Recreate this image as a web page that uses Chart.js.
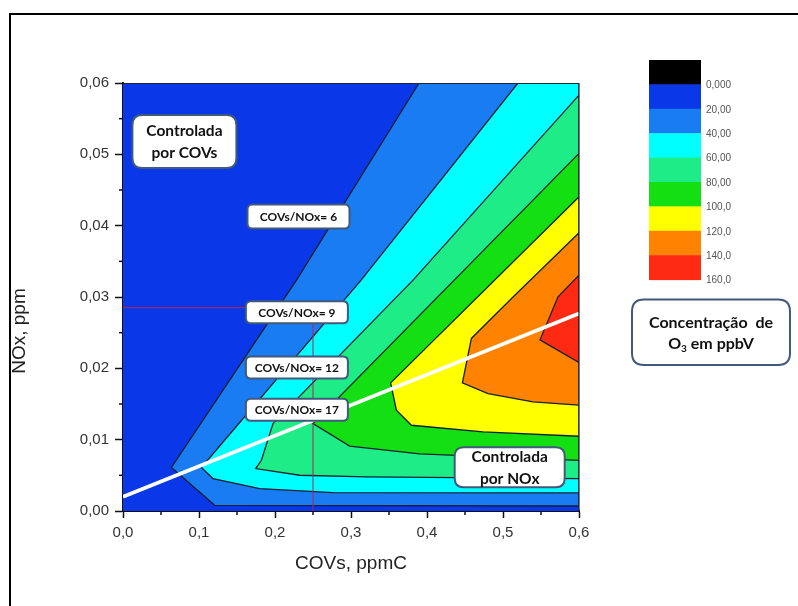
<!DOCTYPE html>
<html><head><meta charset="utf-8">
<script src="https://cdn.jsdelivr.net/npm/chart.js@4/dist/chart.umd.min.js"></script>
<style>html,body{margin:0;padding:0;background:#fff;}#wrap{position:relative;width:798px;height:606px;}canvas{display:block;}</style>
</head><body><div id="wrap"><canvas id="c" width="798" height="606"></canvas></div>
<script>
// ---- data (x = COVs ppmC, y = NOx ppm) ----
const levelLabels = ['0,000','20,00','40,00','60,00','80,00','100,0','120,0','140,0','160,0'];
const bandColors  = ['#000000','#0a37e8','#1a7cf2','#00ffff','#1eec86','#13df13','#ffff00','#ff8200','#ff2a12'];
const xTickValues = [0,0.1,0.2,0.3,0.4,0.5,0.6];
const xTickLabels = ['0,0','0,1','0,2','0,3','0,4','0,5','0,6'];
const yTickValues = [0,0.01,0.02,0.03,0.04,0.05,0.06];
const yTickLabels = ['0,00','0,01','0,02','0,03','0,04','0,05','0,06'];
const xRange = [0, 0.6];
const yRange = [0, 0.06];
// iso-lines of O3 (ppbV)
const iso20  = [[0.3896,0.0600],[0.2285,0.0324],[0.0637,0.0061],[0.1207,0.0008],[0.6,0.0007]];
const iso40  = [[0.5197,0.0600],[0.3136,0.0324],[0.1031,0.0061],[0.1184,0.00455],[0.1799,0.00314],[0.2763,0.00258],[0.6,0.00253]];
const iso60  = [[0.6,0.0583],[0.3816,0.03237],[0.1974,0.01226],[0.1821,0.00711],[0.1746,0.00595],[0.2325,0.00501],[0.3203,0.00477],[0.6,0.00455]];
const iso80  = [[0.6,0.05014],[0.25,0.01226],[0.2983,0.0091],[0.3904,0.0080],[0.6,0.0071]];
const iso100 = [[0.6,0.04405],[0.3522,0.01796],[0.3597,0.01413],[0.3795,0.01202],[0.4737,0.01108],[0.6,0.01048]];
const iso120 = [[0.6,0.0390],[0.5132,0.0300],[0.4584,0.02419],[0.4466,0.01796],[0.4803,0.01647],[0.5395,0.01529],[0.6,0.01483]];
const iso140 = [[0.6,0.03307],[0.5724,0.03002],[0.5487,0.02399],[0.6,0.02082]];
const isoLines = [iso20, iso40, iso60, iso80, iso100, iso120, iso140];
// ridge line (white) and reference point
const limiteCOV = [0, 0.6];
const limiteNOx = [0.002, 0.0277];
const pontoCOV = 0.25;
const pontoNOx = 0.0285;

// ---- annotation layout ----
const notas = [
  {lines:['Controlada','por COVs'], x:0.0808, y:0.0518, w:104, h:53, size:15.5, r:10},
  {lines:['COVs/NOx= 6'],  x:0.2309, y:0.0413,  w:102, h:24, size:12, r:5},
  {lines:['COVs/NOx= 9'],  x:0.2288, y:0.02785, w:102, h:22, size:12, r:5},
  {lines:['COVs/NOx= 12'], x:0.2288, y:0.02013, w:102, h:22, size:12, r:5},
  {lines:['COVs/NOx= 17'], x:0.2288, y:0.0142,  w:102, h:22, size:12, r:5},
  {lines:['Controlada','por NOx'], x:0.5088, y:0.00613, w:110, h:40, size:15.5, r:9}
];
const BOX_FONT = 'Lato, "Open Sans", sans-serif';
const AX_FONT = '"Liberation Sans", Arial, sans-serif';

function region(iso){
  const pts = iso.map(p => ({x:p[0], y:p[1]}));
  const first = iso[0];
  if (first[1] >= yRange[1]) pts.push({x:xRange[1], y:yRange[1]});
  pts.push({x:first[0], y:first[1]});
  return pts;
}

const datasets = [];
datasets.push({
  data:[{x:xRange[0],y:yRange[0]},{x:xRange[1],y:yRange[0]},{x:xRange[1],y:yRange[1]},{x:xRange[0],y:yRange[1]},{x:xRange[0],y:yRange[0]}],
  showLine:true, fill:'shape', backgroundColor:bandColors[1], borderWidth:0, pointRadius:0, order:20
});
isoLines.forEach((iso, i) => {
  datasets.push({
    data: region(iso), showLine:true, fill:'shape', backgroundColor:bandColors[i+2],
    borderColor:'#15202e', borderWidth:1.3, pointRadius:0, tension:0, order:19-i
  });
});
datasets.push({
  data:[{x:0,y:pontoNOx},{x:pontoCOV,y:pontoNOx},{x:pontoCOV,y:0}],
  showLine:true, fill:false, borderColor:'rgba(170,40,95,0.85)', borderWidth:1.2, pointRadius:0, order:2
});
datasets.push({
  data: limiteCOV.map((v,i)=>({x:v, y:limiteNOx[i]})),
  showLine:true, fill:false, borderColor:'#ffffff', borderWidth:3.8, pointRadius:0, order:1
});

function rr(ctx, x, y, w, h, r){
  ctx.beginPath();
  ctx.moveTo(x+r, y); ctx.lineTo(x+w-r, y); ctx.quadraticCurveTo(x+w, y, x+w, y+r);
  ctx.lineTo(x+w, y+h-r); ctx.quadraticCurveTo(x+w, y+h, x+w-r, y+h);
  ctx.lineTo(x+r, y+h); ctx.quadraticCurveTo(x, y+h, x, y+h-r);
  ctx.lineTo(x, y+r); ctx.quadraticCurveTo(x, y, x+r, y); ctx.closePath();
}

const decor = {
  id:'decor',
  afterDraw(chart){
    const ctx = chart.ctx, xs = chart.scales.x, ys = chart.scales.y, a = chart.chartArea;
    ctx.save();
    // plot frame top/right
    ctx.strokeStyle = '#1c2636'; ctx.lineWidth = 1.2;
    ctx.beginPath(); ctx.moveTo(a.left, a.top+0.5); ctx.lineTo(a.right, a.top+0.5); ctx.lineTo(a.right, a.bottom); ctx.stroke();
    // minor ticks
    ctx.strokeStyle = '#111'; ctx.lineWidth = 1.5;
    for (let i=0;i<xTickValues.length-1;i++){
      const px = xs.getPixelForValue((xTickValues[i]+xTickValues[i+1])/2);
      ctx.beginPath(); ctx.moveTo(px, a.bottom); ctx.lineTo(px, a.bottom+4); ctx.stroke();
    }
    for (let i=0;i<yTickValues.length-1;i++){
      const py = ys.getPixelForValue((yTickValues[i]+yTickValues[i+1])/2);
      ctx.beginPath(); ctx.moveTo(a.left, py); ctx.lineTo(a.left-4, py); ctx.stroke();
    }
    // y title
    ctx.fillStyle = '#222'; ctx.font = '19px ' + AX_FONT;
    ctx.textAlign = 'center'; ctx.textBaseline = 'middle';
    ctx.save(); ctx.translate(20, 331); ctx.rotate(-Math.PI/2); ctx.fillText('NOx, ppm', 0, 0); ctx.restore();
    // annotation boxes
    notas.forEach(n => {
      const cx = xs.getPixelForValue(n.x), cy = ys.getPixelForValue(n.y);
      rr(ctx, cx-n.w/2, cy-n.h/2, n.w, n.h, n.r);
      ctx.fillStyle = '#ffffff'; ctx.fill();
      ctx.strokeStyle = '#41597a'; ctx.lineWidth = 2; ctx.stroke();
      ctx.fillStyle = '#111'; ctx.font = 'bold ' + n.size + 'px ' + BOX_FONT;
      ctx.textAlign = 'center'; ctx.textBaseline = 'middle';
      const lh = n.lines.length > 1 ? 21.5 : 0;
      n.lines.forEach((t, k) => ctx.fillText(t, cx, cy + (k - (n.lines.length-1)/2)*lh + 0.5));
    });
    // colour bar
    const bx = 649, bw = 52, by = 60, bh = 24.4;
    bandColors.forEach((c, i) => { ctx.fillStyle = c; ctx.fillRect(bx, by + i*bh, bw, bh + 0.5); });
    ctx.fillStyle = '#555'; ctx.font = '10px ' + AX_FONT; ctx.textAlign = 'left'; ctx.textBaseline = 'middle';
    levelLabels.forEach((t, i) => ctx.fillText(t, 706, by + (i+1)*bh + 1));
    // legend box
    rr(ctx, 632, 299.5, 158, 65.5, 12);
    ctx.fillStyle = '#fff'; ctx.fill(); ctx.strokeStyle = '#41597a'; ctx.lineWidth = 2; ctx.stroke();
    ctx.fillStyle = '#111'; ctx.textAlign = 'center'; ctx.textBaseline = 'middle';
    ctx.font = 'bold 16px ' + BOX_FONT;
    ctx.fillText('Concentração  de', 711, 322.5);
    ctx.textAlign = 'left';
    const big = 'bold 16px ' + BOX_FONT, small = 'bold 10px ' + BOX_FONT;
    ctx.font = big; const wO = ctx.measureText('O').width, wR = ctx.measureText(' em ppbV').width;
    ctx.font = small; const w3 = ctx.measureText('3').width;
    let sx = 711 - (wO + w3 + wR)/2;
    ctx.font = big; ctx.fillText('O', sx, 344); sx += wO;
    ctx.font = small; ctx.fillText('3', sx, 349); sx += w3;
    ctx.font = big; ctx.fillText(' em ppbV', sx, 344);
    // outer frame
    ctx.fillStyle = '#000';
    ctx.fillRect(9, 13, 798-9, 2);
    ctx.fillRect(9, 13, 2, 606-13);
    ctx.restore();
  }
};

new Chart(document.getElementById('c'), {
  type:'scatter',
  data:{ datasets },
  options:{
    responsive:false, devicePixelRatio:1, animation:false, events:[],
    layout:{ padding:{ left:0, top:83, right:219, bottom:0 } },
    plugins:{ legend:{display:false}, tooltip:{enabled:false} },
    scales:{
      x:{ type:'linear', position:'bottom', min:xRange[0], max:xRange[1],
        afterFit: s => { s.height = 95; },
        afterBuildTicks: s => { s.ticks = xTickValues.map(v => ({value:v})); },
        ticks:{ padding:6, color:'#333', maxRotation:0, autoSkip:false,
          font:{ family:AX_FONT, size:15 },
          callback:(v, i) => xTickLabels[i] },
        grid:{ drawOnChartArea:false, drawTicks:true, tickLength:7, tickColor:'#111', tickWidth:1.5 },
        border:{ display:true, color:'#111', width:2 },
        title:{ display:true, text:'COVs, ppmC', color:'#222', font:{ family:AX_FONT, size:19 }, padding:{ top:0, bottom:30.6 } }
      },
      y:{ type:'linear', position:'left', min:yRange[0], max:yRange[1],
        afterFit: s => { s.width = 123; },
        afterBuildTicks: s => { s.ticks = yTickValues.map(v => ({value:v})); },
        ticks:{ padding:6, color:'#333', autoSkip:false,
          font:{ family:AX_FONT, size:15 },
          callback:(v, i) => yTickLabels[i] },
        grid:{ drawOnChartArea:false, drawTicks:true, tickLength:8, tickColor:'#111', tickWidth:1.5 },
        border:{ display:true, color:'#111', width:2 }
      }
    }
  },
  plugins:[decor]
});
</script></body></html>
